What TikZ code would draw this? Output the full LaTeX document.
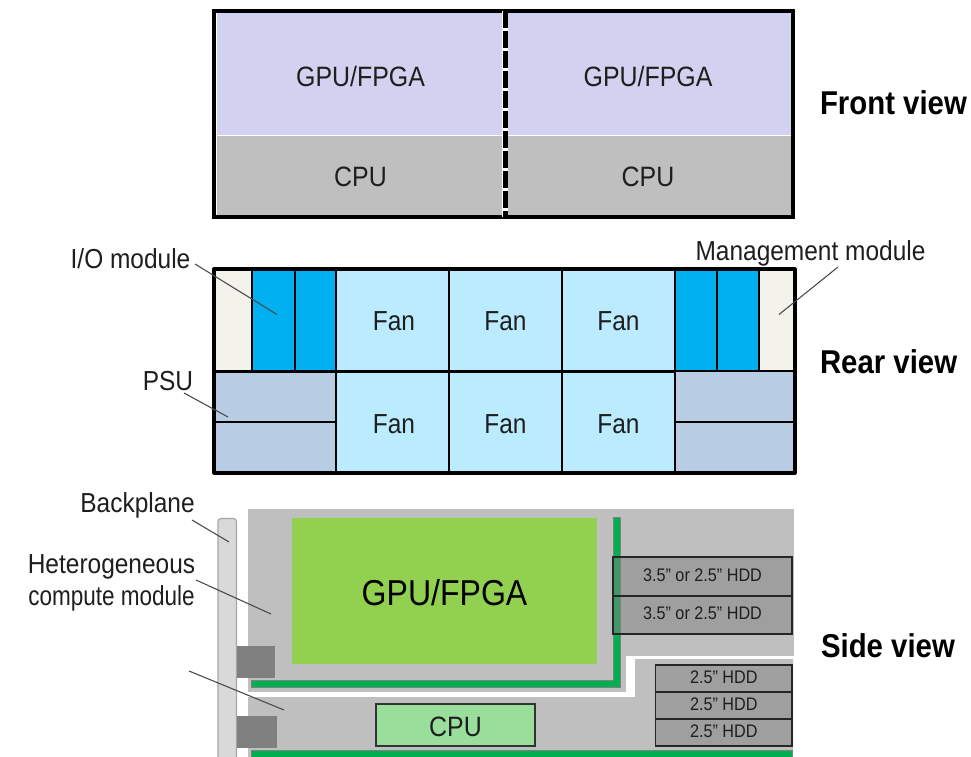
\documentclass[tikz,border=0pt]{standalone}
\usepackage{fontspec}
\setmainfont{Liberation Sans}[FakeStretch=0.89]
\definecolor{gpupurple}{HTML}{D2D2F0}
\definecolor{cpugray}{HTML}{BFBFBF}
\definecolor{offwhite}{HTML}{F3F3EC}
\definecolor{iomod}{HTML}{00B0F0}
\definecolor{fanblue}{HTML}{BBEBFF}
\definecolor{psublue}{HTML}{B8CCE4}
\definecolor{gpugreen}{HTML}{92D050}
\definecolor{cpugreen}{HTML}{99DF9B}
\definecolor{boardgreen}{HTML}{00B050}
\definecolor{inktext}{HTML}{1E1E1E}
\newcommand{\cell}[6][]{%
  \node[cellbox,minimum width={(#4-#2)*1pt},minimum height={(#5-#3)*1pt},#1] at (#2,#3) {#6};}
% #1: distance of the baseline below the centre of the cell
\newcommand{\lowtext}[2]{\raisebox{-#1pt}[0pt][0pt]{#2}}
\tikzset{
  cellbox/.style={anchor=north west,inner sep=0pt,outer sep=0pt,text=inktext,font=\fontsize{28}{28}\selectfont},
  frontcell/.style={draw=white,line width=1pt},
  rearcell/.style={draw=black,line width=1.3pt,font=\fontsize{27.5}{28}\selectfont},
  heavy/.style={draw=black,line width=3.2pt,line join=round},
  leader/.style={draw=black!70,line width=1.1pt},
  lbl/.style={inner sep=0pt,outer sep=0pt,text=inktext,font=\fontsize{27.5}{29}\selectfont,anchor=base},
  viewlbl/.style={inner sep=0pt,outer sep=0pt,text=black,font=\fontsize{33}{33}\selectfont\bfseries,anchor=base west},
  hddbig/.style={draw=black!85,line width=1.3pt,fill=black!50,fill opacity=.5,text opacity=1,font=\fontsize{18.2}{19}\selectfont},
  board/.style={draw=black!50,line width=1pt,fill=boardgreen},
}
\begin{document}
\begin{tikzpicture}[x=1pt,y=-1pt]
\useasboundingbox (0,0) rectangle (971,757);
\clip (0,0) rectangle (971,757);
% Front view
\cell[frontcell,fill=gpupurple]{216}{13}{505}{135}{\lowtext{13}{GPU/FPGA}}
\cell[frontcell,fill=gpupurple]{505}{13}{791}{135}{\lowtext{13}{GPU/FPGA}}
\cell[frontcell,fill=cpugray]{216}{135}{505}{216}{\lowtext{10.5}{CPU}}
\cell[frontcell,fill=cpugray]{505}{135}{791}{216}{\lowtext{10.5}{CPU}}
\node[cellbox,draw=black,line width=4pt,minimum width=579pt,minimum height=206pt] (frontframe) at (214,11) {};
\coordinate (divtop) at (505,11);
\coordinate (divbot) at (505,217);
\draw[white,line width=5.5pt] (divtop) -- (divbot);
\draw[black,line width=5pt,dash pattern=on 17pt off 3pt] (divtop) -- (divbot);
% Rear view
\cell[rearcell,fill=offwhite]{214}{269}{252}{371}{}
\cell[rearcell,fill=iomod]{252}{269}{295}{371}{}
\cell[rearcell,fill=iomod]{295}{269}{336}{371}{}
\cell[rearcell,fill=fanblue]{336}{269}{449}{372}{\lowtext{9.5}{\hspace*{3pt}Fan}}
\cell[rearcell,fill=fanblue]{449}{269}{562}{372}{\lowtext{9.5}{Fan}}
\cell[rearcell,fill=fanblue]{562}{269}{675}{372}{\lowtext{9.5}{Fan}}
\cell[rearcell,fill=iomod]{675}{269}{717}{371}{}
\cell[rearcell,fill=iomod]{717}{269}{759}{371}{}
\cell[rearcell,fill=offwhite]{759}{269}{795}{371}{}
\cell[rearcell,fill=psublue]{214}{371}{336}{422}{}
\cell[rearcell,fill=psublue]{214}{422}{336}{473}{}
\cell[rearcell,fill=fanblue]{336}{372}{449}{473}{\lowtext{10.5}{\hspace*{3pt}Fan}}
\cell[rearcell,fill=fanblue]{449}{372}{562}{473}{\lowtext{10.5}{Fan}}
\cell[rearcell,fill=fanblue]{562}{372}{675}{473}{\lowtext{10.5}{Fan}}
\cell[rearcell,fill=psublue]{675}{371}{795}{422}{}
\cell[rearcell,fill=psublue]{675}{422}{795}{473}{}
\node[cellbox,heavy,minimum width=581pt,minimum height=204pt] (rearframe) at (214,269) {};
\coordinate (midLa) at (336,269); \coordinate (midLb) at (336,473);
\coordinate (midRa) at (675,269); \coordinate (midRb) at (675,473);
\coordinate (midHa) at (214,371.5); \coordinate (midHb) at (675,371.5);
\draw[black,line width=2.6pt] (midLa) -- (midLb);
\draw[black,line width=2.6pt] (midRa) -- (midRb);
\draw[black,line width=2.6pt] (midHa) -- (midHb);
% Side view: modules
\fill[cpugray,draw=black!25,line width=.8pt] (248,509) -- (793,509) -- (793,655) -- (625,655) -- (625,691) -- (248,691) -- cycle;
\fill[cpugray] (248,697) -- (635,697) -- (635,659) -- (793,659) -- (793,757) -- (248,757) -- cycle;
% Backplane
\draw[black!35,line width=1.2pt,fill=black!15,rounded corners=3pt] (218,518.5) rectangle (236.5,770);
% Boards
\fill[board] (613,517) rectangle (620,686);
\fill[board] (251,680.5) rectangle (620,687);
\fill[boardgreen] (613.5,680) rectangle (619.5,686.5);
\fill[board] (251,750) rectangle (792,762);
% Content
\cell[fill=gpugreen,font=\fontsize{36}{36}\selectfont,text=black]{292}{518}{597}{664}{\lowtext{14}{GPU/FPGA}}
\cell[draw=black!80,line width=1.3pt,fill=cpugreen]{376}{704}{535}{746}{\lowtext{11}{CPU}}
\cell[fill=black!50]{237}{646}{275}{678}{}
\cell[fill=black!50]{237}{716}{277}{748}{}
% HDDs
\cell[hddbig]{613}{557}{792}{596}{\lowtext{5}{3.5" or 2.5" HDD}}
\cell[hddbig]{613}{596}{792}{634}{\lowtext{4.5}{3.5" or 2.5" HDD}}
\cell[hddbig]{655.5}{665}{792}{692}{\lowtext{4.5}{2.5" HDD}}
\cell[hddbig]{655.5}{692}{792}{719}{\lowtext{4.5}{2.5" HDD}}
\cell[hddbig]{655.5}{719}{792}{746}{\lowtext{4.5}{2.5" HDD}}
% Labels
\node[lbl] (iolbl) at (130.5,268) {I/O module};
\node[lbl] (mgmtlbl) at (810.5,260) {Management module};
\node[lbl] (psulbl) at (168,390) {PSU};
\node[lbl] (bplbl) at (137.5,512) {Backplane};
\node[lbl] (hetlbl) at (111.5,573) {Heterogeneous};
\node[lbl] (hetlblb) at (111.5,605) {\scalebox{.92}[1]{compute module}};
\node[viewlbl] (frontlbl) at (820,114) {Front view};
\node[viewlbl] (rearlbl) at (820,373) {Rear view};
\node[viewlbl] (sidelbl) at (821,657) {Side view};
% Leaders
\coordinate (ioS) at (195,264); \coordinate (ioE) at (277,314.5);
\coordinate (psuS) at (184,393); \coordinate (psuE) at (228,417);
\coordinate (mgS) at (838,267); \coordinate (mgE) at (779,314.5);
\coordinate (bpS) at (192,520); \coordinate (bpE) at (229,542);
\coordinate (hetS) at (196,580); \coordinate (hetE) at (271,614);
\coordinate (hetbS) at (189,671); \coordinate (hetbE) at (284,710);
\draw[leader] (ioS) -- (ioE);
\draw[leader] (psuS) -- (psuE);
\draw[leader] (mgS) -- (mgE);
\draw[leader] (bpS) -- (bpE);
\draw[leader] (hetS) -- (hetE);
\draw[leader] (hetbS) -- (hetbE);
\end{tikzpicture}
\end{document}
